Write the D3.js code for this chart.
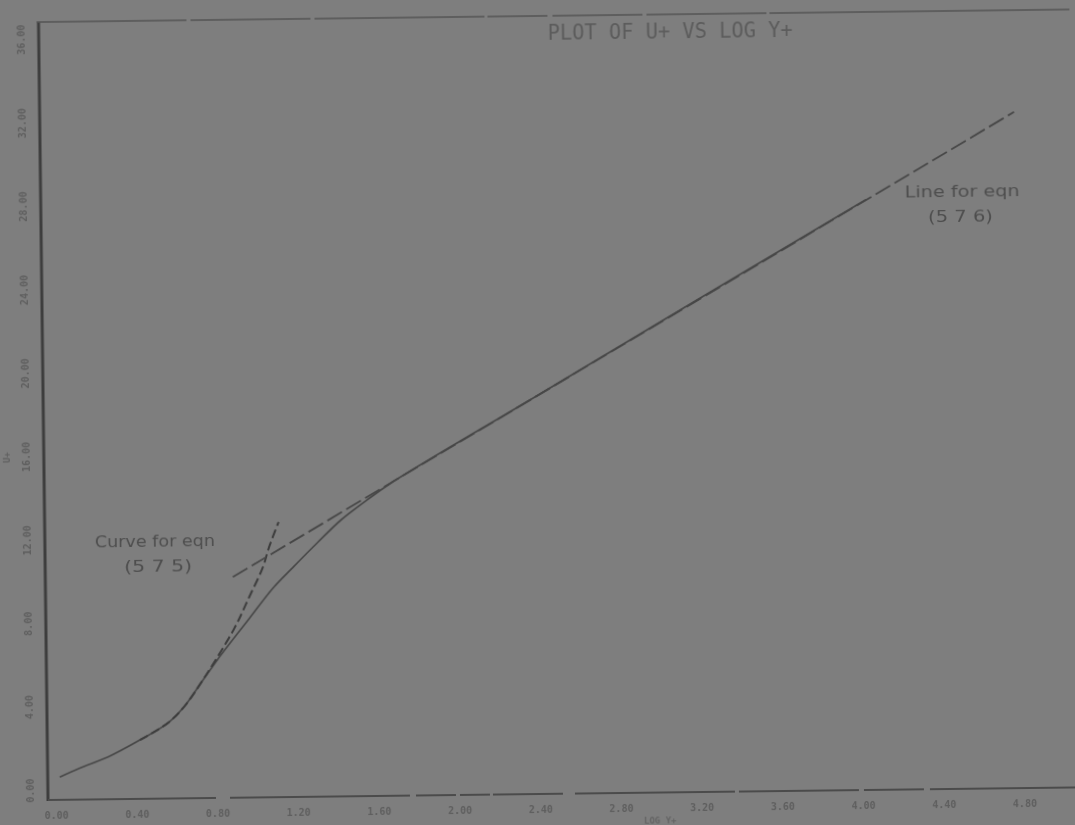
<!DOCTYPE html>
<html>
<head>
<meta charset="utf-8">
<script src="https://cdn.jsdelivr.net/npm/d3@7"></script>
<style>
  html, body { margin: 0; padding: 0; background: #7e7e7e; }
  svg { display: block; }
</style>
</head>
<body>
<svg id="chart" width="1075" height="825"></svg>
<script>
// Axis ticks
const xTicks = [0, 0.4, 0.8, 1.2, 1.6, 2.0, 2.4, 2.8, 3.2, 3.6, 4.0, 4.4, 4.8];
const xTickLabels = ["0.00", "0.40", "0.80", "1.20", "1.60", "2.00", "2.40", "2.80", "3.20", "3.60", "4.00", "4.40", "4.80"];
const yTicks = [0, 4, 8, 12, 16, 20, 24, 28, 32, 36];
const yTickLabels = ["0.00", "4.00", "8.00", "12.00", "16.00", "20.00", "24.00", "28.00", "32.00", "36.00"];

// Velocity profile (solid curve): log Y+ and U+
const profileLogY = [0.02, 0.12, 0.26, 0.42, 0.56, 0.64, 0.72, 0.81, 0.97, 1.09, 1.19, 1.31, 1.43, 1.56, 1.68, 2.4, 3.2, 4.05];
const profileU    = [0.95, 1.37, 1.88, 2.68, 3.48, 4.24, 5.30, 6.50, 8.45, 9.90, 10.88, 12.02, 13.11, 14.05, 14.85, 18.9, 23.4, 28.15];

// Curve for eqn (5.7.5), viscous sublayer (dashed)
const sublayerLogY = [0.42, 0.56, 0.64, 0.72, 0.89, 0.97, 1.04, 1.07, 1.12];
const sublayerU    = [2.68, 3.48, 4.24, 5.30, 7.90, 9.47, 10.90, 11.81, 13.05];

// Line for eqn (5.7.6), log law (dashed)
const logLawLogY = [0.89, 4.79];
const logLawU    = [10.44, 32.27];

const ink = "#474747";
const textInk = "#4e4e4e";

const svg = d3.select("#chart");

svg.append("rect").attr("width", 1075).attr("height", 825).attr("fill", "#7e7e7e");

const defs = svg.append("defs");
defs.append("filter").attr("id", "soft")
  .append("feGaussianBlur").attr("stdDeviation", 0.75);
defs.append("filter").attr("id", "softer")
  .append("feGaussianBlur").attr("stdDeviation", 0.35);

// The sheet sits slightly askew: everything hangs off the lower-left corner of the frame
const g = svg.append("g").attr("transform", "translate(48,800) rotate(-0.7)");

const x = d3.scaleLinear().domain([0, 4.8]).range([8, 976.4]);
const y = d3.scaleLinear().domain([0, 36]).range([-3, -754]);

const frameTop = -778, frameRight = 1070;

// Frame
const frame = g.append("g").attr("filter", "url(#softer)");
frame.append("line")
  .attr("x1", 0).attr("y1", 1).attr("x2", 0).attr("y2", frameTop)
  .attr("stroke", "#3e3e3e").attr("stroke-width", 3);
frame.append("line")
  .attr("x1", 0).attr("y1", 0).attr("x2", frameRight).attr("y2", 0)
  .attr("stroke", "#4c4c4c").attr("stroke-width", 1.8)
  .attr("stroke-dasharray", "168,14,180,6,40,4,30,3,70,12,160,4,120,5,60,6,150,3,400");
frame.append("line")
  .attr("x1", -2).attr("y1", frameTop).attr("x2", frameRight).attr("y2", frameTop)
  .attr("stroke", "#555").attr("stroke-width", 1.4)
  .attr("stroke-dasharray", "150,4,120,4,170,3,60,5,90,4,120,3,300");

// Axes via d3 axis generators (no domain path; labels only)
const xAxis = d3.axisBottom(x).tickValues(xTicks)
  .tickFormat((d, i) => xTickLabels[i]).tickSize(0).tickPadding(12);
const xg = g.append("g").attr("filter", "url(#soft)").call(xAxis);
xg.select(".domain").remove();
xg.selectAll("text")
  .attr("fill", "#5e5e5e")
  .attr("font-family", "DejaVu Sans Mono, monospace")
  .attr("font-size", 10)
  .attr("font-weight", "bold");

const yAxis = d3.axisLeft(y).tickValues(yTicks)
  .tickFormat((d, i) => yTickLabels[i]).tickSize(0).tickPadding(0);
const yg = g.append("g").attr("filter", "url(#soft)").call(yAxis);
yg.select(".domain").remove();
yg.selectAll(".tick text")
  .attr("fill", "#5e5e5e")
  .attr("font-family", "DejaVu Sans Mono, monospace")
  .attr("font-size", 10)
  .attr("font-weight", "bold")
  .attr("text-anchor", "middle")
  .attr("x", 0).attr("dy", 0)
  .attr("transform", "translate(-14,-7) rotate(-90)");

// Axis titles
g.append("text")
  .attr("transform", "translate(-34,-343) rotate(-90)")
  .attr("text-anchor", "middle")
  .attr("font-family", "DejaVu Sans Mono, monospace")
  .attr("font-size", 9).attr("font-weight", "bold")
  .attr("fill", "#606060").attr("filter", "url(#soft)")
  .text("U+");
g.append("text")
  .attr("x", 612).attr("y", 31)
  .attr("text-anchor", "middle")
  .attr("font-family", "DejaVu Sans Mono, monospace")
  .attr("font-size", 9).attr("font-weight", "bold")
  .attr("fill", "#646464").attr("filter", "url(#soft)")
  .text("LOG Y+");

// Title
g.append("text")
  .attr("x", 509).attr("y", -754)
  .attr("font-family", "DejaVu Sans Mono, monospace")
  .attr("font-size", 21)
  .attr("textLength", 245).attr("lengthAdjust", "spacingAndGlyphs")
  .attr("fill", "#5c5c5c").attr("filter", "url(#softer)")
  .text("PLOT OF U+ VS LOG Y+");

// Curves
const line = d3.line()
  .x(d => x(d[0])).y(d => y(d[1]))
  .curve(d3.curveCatmullRom.alpha(0.5));

const curves = g.append("g").attr("fill", "none").attr("filter", "url(#softer)");

curves.append("path")
  .datum(profileLogY.map((v, i) => [v, profileU[i]]))
  .attr("d", line)
  .attr("stroke", ink).attr("stroke-width", 1.7);

curves.append("path")
  .datum(sublayerLogY.map((v, i) => [v, sublayerU[i]]))
  .attr("d", line)
  .attr("stroke", "#3c3c3c").attr("stroke-width", 2)
  .attr("stroke-dasharray", "9,4");

curves.append("path")
  .datum(logLawLogY.map((v, i) => [v, logLawU[i]]))
  .attr("d", d3.line().x(d => x(d[0])).y(d => y(d[1])))
  .attr("stroke", ink).attr("stroke-width", 1.8)
  .attr("stroke-dasharray", "17,5");

// Annotations
const note = g.append("g")
  .attr("font-family", "DejaVu Sans, sans-serif")
  .attr("font-size", 16)
  .attr("fill", textInk)
  .attr("filter", "url(#softer)");

note.append("text").attr("x", 50).attr("y", -252)
  .attr("textLength", 120).attr("lengthAdjust", "spacingAndGlyphs")
  .text("Curve for eqn");
note.append("text").attr("x", 79).attr("y", -227)
  .attr("textLength", 68).attr("lengthAdjust", "spacingAndGlyphs")
  .text("(5 7 5)");
note.append("text").attr("x", 864).attr("y", -592)
  .attr("textLength", 115).attr("lengthAdjust", "spacingAndGlyphs")
  .text("Line for eqn");
note.append("text").attr("x", 887).attr("y", -567)
  .attr("textLength", 65).attr("lengthAdjust", "spacingAndGlyphs")
  .text("(5 7 6)");
</script>
</body>
</html>
